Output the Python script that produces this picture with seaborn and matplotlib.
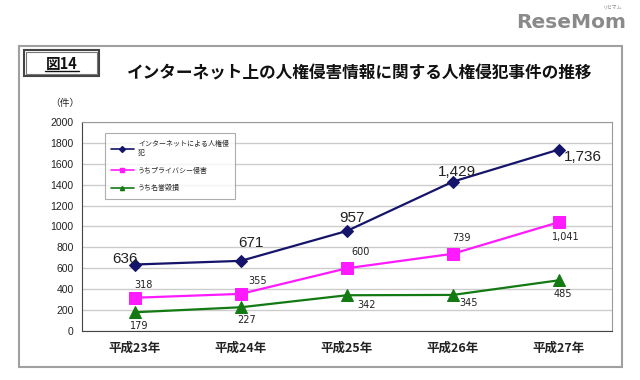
import pandas as pd
import seaborn as sns
import matplotlib.pyplot as plt
from matplotlib.patches import Rectangle
from matplotlib.lines import Line2D

# data
years = ['平成23年', '平成24年', '平成25年', '平成26年', '平成27年']
total_cases = [636, 671, 957, 1429, 1736]
privacy_cases = [318, 355, 600, 739, 1041]
defamation_cases = [179, 227, 342, 345, 485]
series_names = ['インターネットによる人権侵\n犯', 'うちプライバシー侵害', 'うち名誉毀損']
y_ticks = [0, 200, 400, 600, 800, 1000, 1200, 1400, 1600, 1800, 2000]

df = pd.DataFrame({
    'year': years * 3,
    'series': [series_names[0]] * 5 + [series_names[1]] * 5 + [series_names[2]] * 5,
    'cases': total_cases + privacy_cases + defamation_cases,
})

# label offsets (points) for each value label
label_offsets = {
    series_names[0]: [(-7, 4), (7, 13), (4, 9), (3, 7), (17, -5)],
    series_names[1]: [(6, 9), (12, 9), (10, 12), (6, 11), (5, -11)],
    series_names[2]: [(3, -10), (4, -9), (14, -7), (11, -6), (3, -10)],
}
label_sizes = {series_names[0]: 11, series_names[1]: 7, series_names[2]: 7}

sns.set_style("white")
plt.rcParams['font.family'] = ['Noto Sans CJK JP', 'DejaVu Sans']

colors = {series_names[0]: '#14146b', series_names[1]: '#ff1aff', series_names[2]: '#137a13'}
markers = {series_names[0]: 'D', series_names[1]: 's', series_names[2]: '^'}
msizes = {series_names[0]: 6, series_names[1]: 8, series_names[2]: 8}

fig = plt.figure(figsize=(6.4, 3.8), dpi=100)
ax = fig.add_axes([0.128, 0.129, 0.828, 0.55])

for name in series_names:
    sub = df[df['series'] == name]
    sns.lineplot(data=sub, x='year', y='cases', ax=ax, color=colors[name], marker=markers[name],
                 markersize=msizes[name], markeredgecolor=colors[name], linewidth=1.6, label=name, sort=False)
    for i, (yr, val) in enumerate(zip(sub['year'], sub['cases'])):
        ax.annotate(f"{val:,}", (i, val), xytext=label_offsets[name][i], textcoords='offset points',
                    ha='center', va='center', fontsize=label_sizes[name], color='#222222',
                    family=['DejaVu Sans'] if label_sizes[name] < 10 else ['Liberation Sans'])

ax.set_xlim(-0.5, 4.5)
ax.set_ylim(0, 2000)
ax.set_yticks(y_ticks)
ax.set_xlabel('')
ax.set_ylabel('')
ax.yaxis.grid(True, color='#cccccc', linewidth=1)
ax.set_axisbelow(True)
for side in ['top', 'right']:
    ax.spines[side].set_color('#999999')
for side in ['left', 'bottom']:
    ax.spines[side].set_color('#444444')
ax.set_xticks([0.5, 1.5, 2.5, 3.5], minor=True)
ax.tick_params(axis='x', which='major', length=0, pad=8, labelsize=9, labelcolor='#222222')
ax.tick_params(axis='x', which='minor', length=3, direction='in', color='#999999')
ax.tick_params(axis='y', length=3, color='#666666', labelsize=7.5, labelcolor='#222222', pad=3)
for lbl in ax.get_xticklabels():
    lbl.set_fontweight('bold')
for lbl in ax.get_yticklabels():
    lbl.set_family(['Liberation Sans'])

handles = [Line2D([], [], color=colors[n], marker=markers[n], markersize=3, linewidth=1.2) for n in series_names]
leg = ax.legend(handles, series_names, loc='upper left', bbox_to_anchor=(0.043, 0.945), borderaxespad=0,
                fontsize=5, frameon=True, fancybox=False, handlelength=3.3, labelspacing=1.4,
                borderpad=0.9, handletextpad=0.6)
leg.get_frame().set_edgecolor('#999999')
leg.get_frame().set_linewidth(0.8)

# outer frame and headings
fig.patches.append(Rectangle((0.030, 0.034), 0.942, 0.845, transform=fig.transFigure,
                             fill=False, edgecolor='#a0a0a0', linewidth=1.5))
fig.patches.append(Rectangle((0.0375, 0.80), 0.117, 0.068, transform=fig.transFigure,
                             fill=False, edgecolor='#444444', linewidth=1.5))
fig.patches.append(Rectangle((0.041, 0.806), 0.110, 0.056, transform=fig.transFigure,
                             fill=False, edgecolor='#777777', linewidth=0.8))
fig.text(0.097, 0.831, '図14', ha='center', va='center', fontsize=10.5, fontweight='bold', color='#111111')
fig.lines.append(Line2D([0.070, 0.124], [0.812, 0.812], transform=fig.transFigure, color='#111111', linewidth=1))
fig.text(0.5625, 0.808, 'インターネット上の人権侵害情報に関する人権侵犯事件の推移', ha='center', va='center',
         fontsize=12, fontweight='bold', color='#111111')
fig.text(0.102, 0.729, '（件）', ha='center', va='center', fontsize=7, color='#222222')
fig.text(0.893, 0.942, 'ReseMom', ha='center', va='center', fontsize=14.5, fontweight='bold', color='#8a8a8a',
         family=['DejaVu Sans'])
fig.text(0.957, 0.982, 'リセマム', ha='center', va='center', fontsize=3.5, color='#8a8a8a')

fig.savefig('out.png', dpi=100)
